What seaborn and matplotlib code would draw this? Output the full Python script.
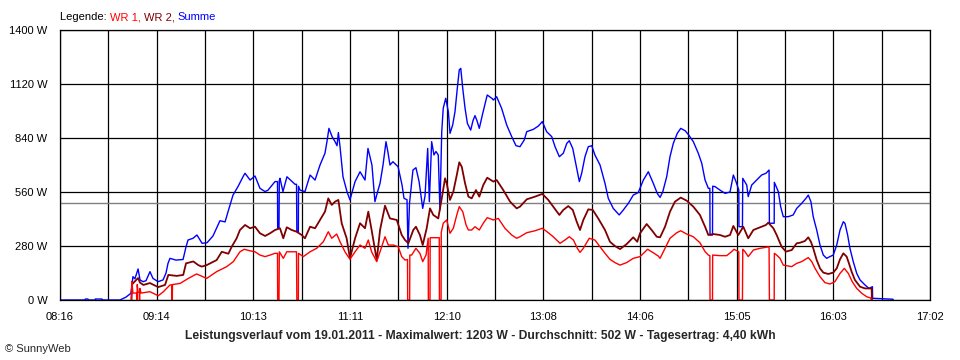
import pandas as pd
import matplotlib
matplotlib.use('Agg')
import matplotlib.pyplot as plt
import seaborn as sns

# time in minutes after midnight, power in W
sum_time = [496.0, 511.1, 511.3, 512.9, 513.1, 517.2, 517.3, 521.4, 521.6, 532.3,
            535.9, 538.9, 540.1, 541.3, 543.2, 544.4, 546.2, 548.0, 550.4, 552.2,
            555.3, 558.3, 560.1, 561.3, 562.5, 566.1, 570.4, 572.2, 573.4, 576.4,
            578.8, 581.9, 584.9, 588.5, 592.7, 595.8, 597.6, 600.6, 603.6, 607.2,
            607.9, 610.9, 613.9, 616.9, 620.0, 621.8, 626.0, 627.5, 627.6, 628.4,
            628.6, 629.0, 630.8, 633.2, 636.3, 638.1, 639.0, 639.2, 640.1, 640.2,
            641.1, 644.1, 647.2, 650.2, 653.2, 656.2, 657.4, 658.6, 660.5, 662.3,
            663.5, 664.3, 665.3, 667.1, 669.5, 671.3, 674.4, 677.4, 680.4, 682.2,
            684.6, 686.4, 688.3, 689.5, 691.3, 693.1, 694.3, 695.5, 697.3, 700.4,
            702.8, 704.0, 705.8, 706.4, 707.3, 709.4, 711.2, 713.1, 715.3, 716.7,
            718.3, 719.3, 720.7, 722.1, 723.3, 724.7, 725.7, 726.8, 727.7, 729.2,
            730.8, 731.8, 733.4, 734.8, 736.2, 737.4, 738.3, 739.5, 740.9, 742.3,
            744.3, 745.7, 746.9, 748.1, 749.5, 751.6, 754.3, 757.2, 758.0, 760.0,
            763.0, 766.1, 769.1, 771.7, 774.1, 776.7, 778.2, 782.2, 785.2, 787.6,
            790.2, 793.3, 795.3, 797.9, 800.3, 802.4, 803.9, 806.0, 808.0, 810.0,
            811.4, 813.4, 815.4, 817.5, 819.4, 822.5, 825.5, 827.5, 830.5, 834.1,
            836.6, 839.6, 842.6, 845.6, 848.7, 851.7, 854.7, 857.1, 858.8, 860.4,
            862.8, 864.8, 866.8, 869.2, 871.3, 873.9, 876.1, 878.9, 881.9, 884.0,
            886.0, 888.0, 888.9, 889.0, 890.5, 890.6, 892.0, 895.0, 898.1, 901.1,
            903.1, 904.7, 906.4, 906.5, 908.6, 908.8, 911.2, 912.1, 914.2, 917.2,
            920.2, 922.8, 924.7, 924.9, 927.8, 927.9, 930.3, 931.7, 933.3, 936.3,
            939.3, 941.4, 944.4, 947.0, 948.4, 950.0, 951.4, 953.5, 955.5, 957.5,
            959.5, 961.5, 963.5, 965.6, 967.6, 969.6, 970.6, 972.2, 973.6, 975.6,
            977.7, 979.7, 982.7, 985.1, 987.2, 987.3, 999.6, 999.8]
sum_watt = [0, 0, 5, 5, 0, 0, 5, 5, 0, 0,
            15, 35, 121, 110, 161, 104, 95, 100, 147, 112,
            95, 104, 140, 190, 216, 207, 210, 276, 311, 320,
            337, 294, 297, 332, 411, 405, 458, 544, 588, 648,
            657, 622, 643, 579, 562, 570, 614, 614, 372, 372,
            620, 631, 562, 639, 614, 600, 600, 354, 354, 590,
            570, 562, 648, 622, 700, 761, 821, 890, 847, 821,
            800, 868, 795, 639, 562, 519, 614, 665, 622, 786,
            700, 510, 570, 605, 700, 821, 765, 700, 717, 691,
            596, 527, 520, 268, 500, 674, 686, 614, 475, 540,
            786, 510, 821, 752, 770, 752, 467, 873, 994, 1046,
            976, 864, 907, 976, 1097, 1193, 1201, 1097, 994, 916,
            881, 930, 956, 930, 890, 968, 1063, 1045, 1037, 1054,
            994, 907, 847, 800, 795, 830, 873, 885, 902, 925,
            873, 847, 795, 743, 761, 812, 826, 786, 700, 614,
            657, 743, 795, 800, 752, 700, 605, 527, 475, 441,
            467, 501, 544, 557, 622, 665, 605, 553, 532, 560,
            639, 743, 812, 864, 890, 878, 856, 821, 761, 709,
            622, 579, 579, 337, 337, 590, 588, 570, 553, 560,
            648, 614, 570, 380, 380, 631, 596, 536, 596, 622,
            648, 657, 674, 398, 398, 610, 562, 484, 432, 432,
            441, 475, 501, 527, 544, 510, 432, 363, 285, 233,
            216, 225, 233, 285, 363, 406, 397, 337, 268, 199,
            138, 104, 78, 60, 69, 9, 4, 0]

wr2_time = [539.2, 539.5, 540.3, 543.2, 544.4, 546.4, 550.4, 552.2, 555.4, 559.5,
            561.5, 566.6, 570.5, 572.2, 576.6, 579.6, 581.7, 584.7, 590.7, 593.8,
            597.8, 599.8, 602.8, 604.8, 607.9, 610.9, 613.9, 616.9, 620.0, 623.0,
            626.0, 629.0, 631.0, 633.1, 636.1, 639.1, 642.1, 644.1, 647.2, 650.2,
            653.2, 656.2, 658.2, 660.3, 662.3, 664.3, 666.3, 669.3, 671.3, 674.4,
            677.4, 680.4, 682.4, 684.4, 687.5, 689.5, 692.5, 695.5, 699.6, 702.6,
            704.6, 706.6, 709.6, 711.2, 713.6, 715.3, 717.7, 719.7, 721.7, 724.7,
            726.8, 728.8, 729.8, 731.8, 733.8, 735.9, 737.4, 738.9, 740.9, 742.9,
            744.9, 747.5, 749.5, 751.9, 754.3, 758.0, 760.0, 764.0, 768.1, 772.1,
            774.1, 778.2, 783.2, 787.6, 791.2, 794.2, 797.9, 800.3, 803.3, 806.0,
            808.4, 810.4, 812.4, 815.4, 818.1, 821.4, 825.5, 828.5, 831.5, 834.6,
            838.6, 842.6, 845.0, 846.7, 850.7, 853.7, 856.8, 858.8, 861.8, 864.8,
            867.8, 871.3, 874.9, 878.9, 882.9, 886.0, 888.0, 891.0, 895.0, 898.1,
            901.1, 903.1, 906.1, 909.1, 912.1, 915.2, 919.2, 922.8, 924.2, 927.3,
            929.3, 932.3, 934.9, 938.4, 941.4, 943.4, 946.4, 948.4, 950.0, 951.4,
            953.5, 955.5, 957.5, 960.5, 963.5, 965.6, 967.6, 969.6, 971.6, 973.0,
            974.6, 976.6, 979.7, 982.7, 986.7, 986.9]
wr2_watt = [0, 80, 88, 114, 90, 78, 88, 80, 67, 78,
            130, 125, 130, 190, 200, 181, 173, 181, 207, 250,
            240, 276, 320, 363, 389, 372, 380, 346, 332, 346,
            363, 372, 320, 377, 363, 354, 337, 320, 380, 372,
            415, 458, 527, 493, 510, 519, 398, 320, 216, 320,
            398, 372, 458, 363, 207, 363, 489, 423, 415, 337,
            311, 294, 363, 380, 337, 285, 372, 475, 441, 423,
            527, 631, 605, 519, 562, 648, 714, 691, 605, 536,
            527, 570, 536, 596, 634, 614, 622, 570, 510, 475,
            484, 522, 536, 550, 519, 484, 441, 467, 487, 467,
            406, 363, 415, 470, 467, 423, 363, 302, 280, 264,
            290, 325, 302, 346, 394, 363, 328, 325, 380, 458,
            510, 531, 515, 484, 441, 380, 337, 342, 337, 328,
            337, 384, 337, 380, 320, 363, 377, 389, 401, 372,
            337, 276, 251, 259, 294, 297, 306, 325, 302, 268,
            207, 164, 142, 135, 142, 164, 211, 242, 225, 190,
            147, 104, 69, 60, 60, 0]

wr1_time = [539.2, 539.4, 540.1, 542.3, 542.4, 542.6, 542.7, 543.2, 543.9, 544.0,
            544.2, 544.3, 545.0, 550.4, 555.4, 558.5, 562.5, 563.5, 563.6, 563.9,
            564.0, 568.6, 573.6, 578.6, 584.7, 590.7, 596.8, 600.8, 604.8, 607.4,
            610.9, 613.9, 616.9, 620.0, 623.0, 626.0, 627.5, 627.6, 628.4, 628.6,
            631.0, 633.1, 637.1, 639.0, 639.2, 640.1, 640.2, 643.1, 647.2, 651.2,
            655.2, 658.2, 660.3, 663.3, 665.3, 668.3, 671.3, 674.4, 677.4, 680.4,
            682.4, 684.4, 687.5, 689.5, 692.5, 694.5, 697.5, 700.5, 702.6, 704.6,
            706.1, 706.2, 707.4, 707.5, 708.6, 711.2, 713.6, 715.3, 717.3, 718.6,
            718.7, 719.7, 719.8, 724.7, 725.3, 725.4, 726.4, 726.5, 727.7, 729.8,
            731.8, 733.8, 735.9, 737.4, 739.5, 741.5, 742.9, 744.9, 746.9, 749.5,
            751.9, 754.3, 758.0, 761.0, 765.0, 769.1, 772.1, 774.1, 778.2, 783.2,
            787.6, 791.2, 794.2, 798.3, 801.3, 803.9, 806.4, 808.8, 810.4, 812.4,
            816.0, 819.4, 822.5, 825.5, 828.5, 831.5, 834.6, 838.6, 842.6, 846.7,
            851.3, 854.7, 857.7, 858.8, 861.8, 864.8, 868.9, 871.3, 874.9, 878.9,
            882.9, 886.0, 888.0, 888.9, 889.0, 890.5, 890.6, 895.0, 899.1, 902.1,
            903.5, 906.4, 906.5, 908.6, 908.8, 910.1, 912.1, 915.2, 919.2, 924.7,
            924.9, 927.8, 927.9, 929.3, 931.3, 933.3, 938.4, 941.4, 944.4, 948.4,
            950.5, 952.5, 955.5, 958.5, 961.5, 964.5, 967.6, 970.2, 972.6, 975.0,
            977.7, 980.7, 983.7, 986.3, 986.4]
wr1_watt = [0, 95, 36, 36, 0, 0, 80, 40, 40, 0,
            0, 60, 36, 43, 22, 43, 78, 78, 0, 0,
            80, 86, 112, 135, 112, 147, 173, 199, 250, 263,
            255, 250, 233, 225, 233, 242, 242, 0, 0, 250,
            216, 250, 250, 250, 0, 0, 242, 225, 250, 268,
            302, 354, 320, 342, 302, 250, 211, 250, 285, 268,
            311, 250, 199, 251, 328, 285, 285, 276, 225, 207,
            210, 0, 0, 233, 233, 268, 242, 199, 233, 320,
            0, 0, 323, 323, 323, 0, 0, 350, 398, 415,
            346, 372, 441, 484, 458, 389, 363, 363, 380, 363,
            398, 427, 415, 423, 372, 337, 320, 328, 349, 359,
            372, 349, 328, 294, 311, 328, 311, 268, 247, 268,
            320, 311, 276, 242, 211, 194, 181, 194, 216, 225,
            263, 245, 228, 216, 268, 320, 349, 359, 342, 328,
            297, 251, 233, 230, 0, 0, 233, 230, 230, 251,
            263, 250, 0, 0, 263, 251, 225, 259, 268, 276,
            0, 0, 242, 233, 216, 181, 173, 190, 199, 220,
            199, 164, 121, 90, 83, 95, 138, 164, 138, 95,
            60, 35, 17, 10, 0]

average_watt = 502
x_labels = ['08:16', '09:14', '10:13', '11:11', '12:10',
            '13:08', '14:06', '15:05', '16:03', '17:02']
y_ticks = [0, 280, 560, 840, 1120, 1400]

title = ('Leistungsverlauf vom 19.01.2011 - Maximalwert: 1203 W - '
         'Durchschnitt: 502 W - Tagesertrag: 4,40 kWh')


def main():
    sns.set_style('white')
    plt.rcParams['font.family'] = ['Liberation Sans', 'DejaVu Sans']
    plt.rcParams['font.size'] = 8

    fig = plt.figure(figsize=(9.6, 3.6), dpi=100)
    ax = fig.add_axes([60 / 960, 60 / 360, 870 / 960, 270 / 360])

    t_start, t_end = 496, 1022
    ax.set_xlim(t_start, t_end)
    ax.set_ylim(0, 1400)

    step = (t_end - t_start) / (len(x_labels) - 1)
    major = [t_start + i * step for i in range(len(x_labels))]
    minor = [t_start + (i + 0.5) * step for i in range(len(x_labels) - 1)]
    ax.set_xticks(major)
    ax.set_xticklabels(x_labels)
    ax.set_xticks(minor, minor=True)
    ax.set_yticks(y_ticks)
    ax.set_yticklabels([f'{v} W' for v in y_ticks])

    ax.grid(True, which='both', axis='x', color='black', lw=0.9)
    ax.grid(True, which='major', axis='y', color='black', lw=0.9)
    ax.set_axisbelow(True)
    ax.tick_params(axis='both', which='both', direction='out', length=4,
                   width=0.9, color='black', labelsize=8, labelcolor='black')
    ax.tick_params(axis='x', which='both', pad=4.5)
    ax.tick_params(axis='y', pad=5)
    for sp in ax.spines.values():
        sp.set_color('black')
        sp.set_linewidth(0.9)

    ax.axhline(average_watt, color='#808080', lw=1.0, zorder=1.5)

    df_sum = pd.DataFrame({'t': sum_time, 'w': sum_watt})
    df_wr2 = pd.DataFrame({'t': wr2_time, 'w': wr2_watt})
    df_wr1 = pd.DataFrame({'t': wr1_time, 'w': wr1_watt})
    sns.lineplot(data=df_sum, x='t', y='w', color='#0000ff', lw=1.0,
                 estimator=None, sort=False, ax=ax)
    sns.lineplot(data=df_wr2, x='t', y='w', color='#800000', lw=1.3,
                 estimator=None, sort=False, ax=ax)
    sns.lineplot(data=df_wr1, x='t', y='w', color='#ff0000', lw=1.0,
                 estimator=None, sort=False, ax=ax)
    ax.set_xlabel('')
    ax.set_ylabel('')

    # legend line on top, coloured pieces
    txt = fig.text(60 / 960, 1 - 17 / 360, 'Legende: ', color='black',
                   va='center', ha='left', fontsize=8)
    for part, col in [('WR 1, ', '#ff0000'), ('WR 2, ', '#800000'),
                      ('Summe', '#0000ff')]:
        txt = ax.annotate(part, xy=(1, 0), xycoords=txt, va='bottom',
                          ha='left', color=col, fontsize=8)

    fig.text(480 / 960, 1 - 336 / 360, title, ha='center', va='center',
             fontweight='bold', fontsize=8.7)
    fig.text(5 / 960, 1 - 349 / 360, '\u00a9 SunnyWeb', ha='left',
             va='center', fontsize=8)

    fig.savefig('out.png', dpi=100)


if __name__ == '__main__':
    main()
